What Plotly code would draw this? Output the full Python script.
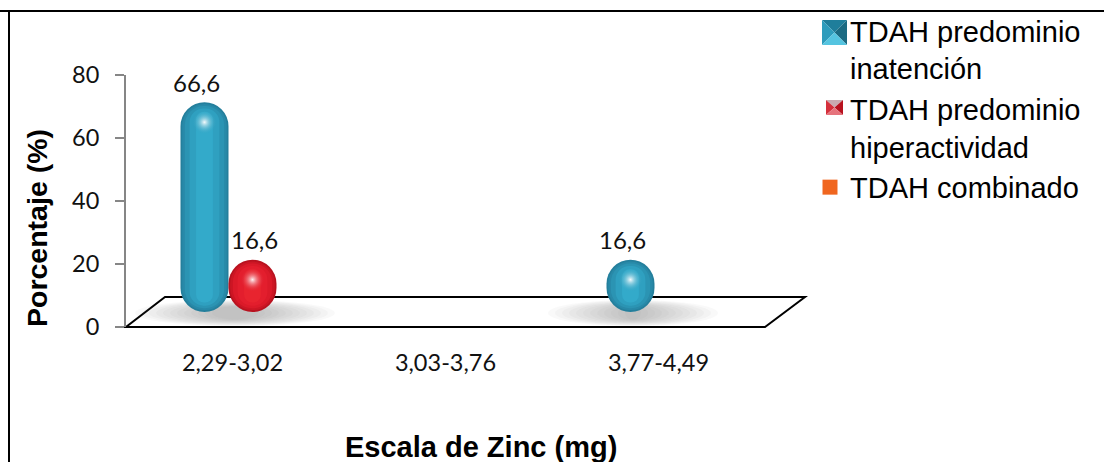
import plotly.graph_objects as go

categories = ["2,29-3,02", "3,03-3,76", "3,77-4,49"]
inatencion = [66.6, 0, 16.6]
hiperactividad = [16.6, 0, 0]
combinado = [0, 0, 0]
series_names = ["TDAH predominio<br>inatención", "TDAH predominio<br>hiperactividad", "TDAH combinado"]
y_ticks = [0, 20, 40, 60, 80]

W, H = 1104, 462
def px(x): return x / W
def py(y): return 1 - y / H

BAR_W = 48 / 213
UNIT = 252 / 80
offsets = [-BAR_W, 0, BAR_W]
shades = [
    [(0, 1.00, "#247F9C"), (0.6, 0.93, "#2889A8"), (1.2, 0.82, "#2B94B3"), (2, 0.62, "#2FA0C0"), (3, 0.35, "#33AACA")],
    [(0, 1.00, "#B8121F"), (0.6, 0.93, "#CC1624"), (1.2, 0.82, "#DB1A29"), (2, 0.62, "#E31E2D"), (3, 0.35, "#E8242F")],
    [(0, 1.00, "#F0661F")],
]
highlight = ["rgba(46,160,192,0)", "rgba(226,30,45,0)", "rgba(240,102,31,0)"]
data = [inatencion, hiperactividad, combinado]
idx = list(range(len(categories)))

fig = go.Figure()
for s, vals in enumerate(data):
    for d, f, col in shades[s]:
        fig.add_trace(go.Bar(
            x=[i + offsets[s] for i in idx],
            y=[max(v - 2 * d, 0) if v else 0 for v in vals],
            base=[d for _ in vals],
            width=BAR_W * f,
            marker=dict(color=col, line=dict(width=0)),
            xaxis="x2", yaxis="y2", showlegend=False, hoverinfo="skip",
        ))
    fig.add_trace(go.Scatter(
        x=[i + offsets[s] for i, v in zip(idx, vals) if v],
        y=[v - 20 / UNIT for v in vals if v],
        mode="markers",
        marker=dict(size=24, color=highlight[s],
                    gradient=dict(type="radial", color="rgba(255,255,255,0.95)"), line=dict(width=0)),
        xaxis="x2", yaxis="y2", showlegend=False, hoverinfo="skip",
    ))

# legend entries (the two bevelled keys are drawn as shapes beside the first line of text)
legend_cols = ["#FFFFFF", "#FFFFFF", "#F0661F"]
legend_sizes = [1, 1, 15]
for name, col, sz in zip(series_names, legend_cols, legend_sizes):
    fig.add_trace(go.Scatter(x=[None], y=[None], mode="markers", name=name,
                             marker=dict(symbol="square", size=sz, color=col, line=dict(width=0)),
                             xaxis="x", yaxis="y"))

# data labels
label_shift = [-8, 2, 0]
annotations = []
for s, vals in enumerate(data):
    for i, v in zip(idx, vals):
        if v:
            annotations.append(dict(
                x=i + offsets[s], y=v, xref="x2", yref="y2", text=f"{v}".replace(".", ","),
                showarrow=False, xshift=label_shift[s], yshift=20,
                font=dict(family="Lato, Carlito, sans-serif", size=24, color="#111111"),
            ))
annotations.append(dict(x=px(481), y=py(447), xref="paper", yref="paper", showarrow=False,
                        xanchor="center", yanchor="middle",
                        text="<b>Escala de Zinc (mg)</b>", font=dict(size=29, color="#000000")))
annotations.append(dict(x=px(37), y=py(228), xref="paper", yref="paper", showarrow=False, textangle=-90,
                        xanchor="center", yanchor="middle",
                        text="<b>Porcentaje (%)</b>", font=dict(size=28.5, color="#000000")))

def tri(pts, col):
    d = "M" + " L".join(f"{px(x)},{py(y)}" for x, y in pts) + " Z"
    return dict(type="path", xref="paper", yref="paper", path=d, fillcolor=col, line=dict(width=0), layer="above")

def bevel(x0, y0, x1, y1, top, left, right, bottom):
    cx, cy = (x0 + x1) / 2, (y0 + y1) / 2
    return [tri([(x0, y0), (x1, y0), (cx, cy)], top), tri([(x0, y0), (x0, y1), (cx, cy)], left),
            tri([(x1, y0), (x1, y1), (cx, cy)], right), tri([(x0, y1), (x1, y1), (cx, cy)], bottom)]

shapes = []
# floor
shapes.append(dict(type="path", xref="paper", yref="paper", layer="below",
    path=f"M{px(126)},{py(327)} L{px(765)},{py(327)} L{px(805)},{py(297)} L{px(165)},{py(297)} Z",
    fillcolor="white", line=dict(color="#000000", width=2)))
# soft shadows on the floor
for k in range(12):
    for x0, x1 in [(135, 335), (548, 718)]:
        shapes.append(dict(type="circle", xref="paper", yref="paper", layer="below",
                           x0=px(x0 + k * 7), x1=px(x1 - k * 7), y0=py(300 + k * 0.6), y1=py(326 - k * 0.6),
                           fillcolor="#777777", opacity=0.045, line=dict(width=0)))
# outer frame
shapes.append(dict(type="line", xref="paper", yref="paper", x0=0, x1=1, y0=py(11), y1=py(11),
                   line=dict(color="black", width=2), layer="below"))
shapes.append(dict(type="line", xref="paper", yref="paper", x0=px(9), x1=px(9), y0=py(11), y1=0,
                   line=dict(color="black", width=2), layer="below"))
# bevelled legend keys
shapes += bevel(822, 20, 847, 45, "#1F7E9B", "#2E9CBC", "#1B6A82", "#55C4E0")
shapes += bevel(826, 100, 843, 115, "#C9AAB0", "#D5303C", "#B8121F", "#E6737C")

fig.update_layout(
    width=W, height=H, margin=dict(l=0, r=0, t=0, b=0),
    paper_bgcolor="white", plot_bgcolor="rgba(0,0,0,0)",
    barmode="overlay", barcornerradius="50%",
    font=dict(family="Liberation Sans, Arial, sans-serif", color="#000000"),
    shapes=shapes, annotations=annotations,
    xaxis=dict(domain=[px(126), px(765)], range=[-0.5, 2.5], tickmode="array", tickvals=idx, ticktext=categories,
               showgrid=False, zeroline=False, showline=False, ticks="", ticklen=0, ticklabelstandoff=19,
               tickfont=dict(family="Lato, Carlito, sans-serif", size=23.5, color="#111111"),
               anchor="y", automargin=False),
    yaxis=dict(domain=[py(327), py(75)], range=[0, 80], tickmode="array", tickvals=y_ticks,
               showgrid=False, zeroline=False, showline=True, linecolor="#868686", linewidth=2,
               ticks="outside", ticklen=9, tickcolor="#868686", tickwidth=2, ticklabelstandoff=11,
               tickfont=dict(family="Lato, Carlito, sans-serif", size=23.5, color="#111111"),
               anchor="x", automargin=False),
    xaxis2=dict(domain=[px(146), px(785)], range=[-0.5, 2.5], visible=False, anchor="y2"),
    yaxis2=dict(domain=[py(312), py(60)], range=[0, 80], visible=False, anchor="x2"),
    legend=dict(x=px(810), y=py(5), xanchor="left", yanchor="top", bgcolor="rgba(0,0,0,0)",
                font=dict(family="Liberation Sans, Arial, sans-serif", size=29), itemsizing="trace", itemwidth=30,
                tracegroupgap=0),
)
fig.write_html("out.html", config=dict(displayModeBar=False), post_script="document.body.style.margin='0';")
